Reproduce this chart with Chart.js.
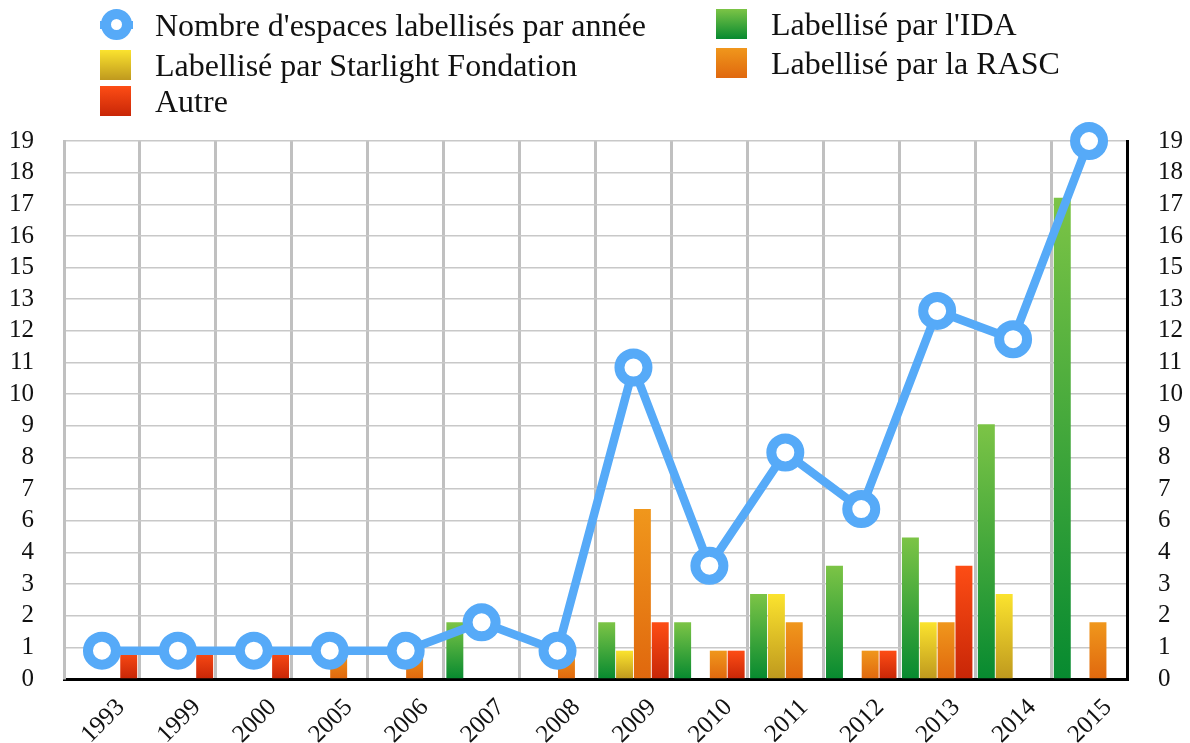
<!DOCTYPE html>
<html>
<head>
<meta charset="utf-8">
<script src="https://cdn.jsdelivr.net/npm/chart.js@4/dist/chart.umd.min.js"></script>
<style>
  html, body { margin: 0; padding: 0; background: #fff; }
  #wrap { position: relative; width: 1190px; height: 743px; }
  #c { position: absolute; left: 0; top: 0; }
  .lg { position: absolute; height: 32px; display: flex; align-items: center;
        font-family: "Liberation Serif", "Times New Roman", serif; font-size: 32px; color: #111; white-space: nowrap; }
  .sw { width: 31px; height: 30px; margin-right: 24px; flex: none; }
  .mk { position: relative; width: 33px; height: 32px; margin-right: 22px; flex: none; }
  .mk .ln { position: absolute; left: 0; right: 0; top: 12px; height: 8px; background: #56aaf8; }
  .mk .ci { position: absolute; left: 1px; top: 0px; width: 11px; height: 11px; border: 10px solid #56aaf8;
            border-radius: 50%; background: #fff; }
</style>
</head>
<body>
<div id="wrap">
  <canvas id="c" width="1190" height="743"></canvas>
  <div id="legend"></div>
</div>
<script>
// ---- data ----
const categories = ['1993','1999','2000','2005','2006','2007','2008','2009','2010','2011','2012','2013','2014','2015'];
const totalPerYear = [1, 1, 1, 1, 1, 2, 1, 11, 4, 8, 6, 13, 12, 19];
const idaValues       = [0, 0, 0, 0, 0, 2, 0, 2, 2, 3, 4, 5, 9, 17];
const starlightValues = [0, 0, 0, 0, 0, 0, 0, 1, 0, 3, 0, 2, 3, 0];
const rascValues      = [0, 0, 0, 1, 1, 0, 1, 6, 1, 2, 1, 2, 0, 2];
const autreValues     = [1, 1, 1, 0, 0, 0, 0, 2, 1, 0, 1, 4, 0, 0];
const yTickLabels = ['0','1','2','3','4','6','7','8','9','10','11','12','13','15','16','17','18','19'];
const yMax = 19;

const seriesNames = {
  total: "Nombre d'espaces labellisés par année",
  ida: "Labellisé par l'IDA",
  starlight: "Labellisé par Starlight Fondation",
  rasc: "Labellisé par la RASC",
  autre: "Autre"
};

// ---- styles ----
const FONT = '"Liberation Serif", "Times New Roman", serif';
const LINE_BLUE = '#56aaf8';
const grads = {
  ida: ['#7cc446', '#078a30'],
  starlight: ['#fbe32e', '#bf991e'],
  rasc: ['#f0971c', '#e0680e'],
  autre: ['#fd4d15', '#c82607']
};

function barGradient(stops) {
  return function (ctx) {
    const chart = ctx.chart;
    if (ctx.type !== 'data' || !chart.chartArea || !chart.scales.y) return stops[1];
    const ys = chart.scales.y;
    const top = ys.getPixelForValue(ctx.raw);
    const bottom = ys.getPixelForValue(0);
    if (!(bottom > top)) return stops[1];
    const g = chart.ctx.createLinearGradient(0, top, 0, bottom);
    g.addColorStop(0, stops[0]);
    g.addColorStop(1, stops[1]);
    return g;
  };
}

function barSet(label, data, key) {
  return {
    type: 'bar', label, data, order: 1,
    backgroundColor: barGradient(grads[key]),
    borderWidth: 0,
    categoryPercentage: 0.94,
    barPercentage: 0.95,
    yAxisID: 'y'
  };
}

// ---- html legend ----
(function buildLegend() {
  const L = document.getElementById('legend');
  const items = [
    { key: 'total', x: 100, cy: 25 },
    { key: 'ida', x: 716, cy: 24 },
    { key: 'starlight', x: 100, cy: 65 },
    { key: 'rasc', x: 716, cy: 63 },
    { key: 'autre', x: 100, cy: 101 }
  ];
  items.forEach(it => {
    const d = document.createElement('div');
    d.className = 'lg';
    d.style.left = it.x + 'px';
    d.style.top = (it.cy - 16) + 'px';
    let marker;
    if (it.key === 'total') {
      marker = document.createElement('div');
      marker.className = 'mk';
      marker.innerHTML = '<div class="ln"></div><div class="ci"></div>';
    } else {
      marker = document.createElement('div');
      marker.className = 'sw';
      marker.style.background = 'linear-gradient(to bottom,' + grads[it.key][0] + ',' + grads[it.key][1] + ')';
    }
    const t = document.createElement('span');
    t.textContent = seriesNames[it.key];
    d.appendChild(marker);
    d.appendChild(t);
    L.appendChild(d);
  });
})();

function yTicksBuilder(scale) {
  scale.ticks = yTickLabels.map((_, i) => ({ value: i * yMax / (yTickLabels.length - 1) }));
}

new Chart(document.getElementById('c'), {
  data: {
    labels: categories,
    datasets: [
      {
        type: 'line', label: seriesNames.total, data: totalPerYear, order: 0,
        borderColor: LINE_BLUE, borderWidth: 8.5,
        pointRadius: 14, pointBorderWidth: 10,
        pointBackgroundColor: '#ffffff', pointBorderColor: LINE_BLUE,
        pointHoverRadius: 14,
        tension: 0, clip: false, yAxisID: 'y'
      },
      barSet(seriesNames.ida, idaValues, 'ida'),
      barSet(seriesNames.starlight, starlightValues, 'starlight'),
      barSet(seriesNames.rasc, rascValues, 'rasc'),
      barSet(seriesNames.autre, autreValues, 'autre')
    ]
  },
  options: {
    responsive: false,
    animation: false,
    layout: { padding: { top: 141, left: 10, right: 5, bottom: 0 } },
    plugins: { legend: { display: false }, tooltip: { enabled: false } },
    scales: {
      x: {
        offset: true,
        afterFit: (s) => { s.paddingLeft = 0; s.paddingRight = 0; s.height = 64; },
        grid: { offset: true, color: '#c0c0c0', lineWidth: 3, drawTicks: false },
        border: { color: '#000', width: 3 },
        ticks: { font: { family: FONT, size: 25 }, color: '#111', minRotation: 45, maxRotation: 45,
                 padding: 14, labelOffset: 19, autoSkip: false }
      },
      y: {
        position: 'left', min: 0, max: yMax,
        afterBuildTicks: yTicksBuilder,
        afterFit: (s) => { s.width = 54; },
        grid: { color: '#c8c8c8', lineWidth: 1.5, drawTicks: false },
        border: { color: '#c0c0c0', width: 3 },
        ticks: { font: { family: FONT, size: 25 }, color: '#111', padding: 30, autoSkip: false,
                 callback: (v, i) => yTickLabels[i] }
      },
      y2: {
        position: 'right', min: 0, max: yMax,
        afterBuildTicks: yTicksBuilder,
        afterFit: (s) => { s.width = 58; },
        grid: { drawOnChartArea: false, drawTicks: false },
        border: { color: '#000', width: 3 },
        ticks: { font: { family: FONT, size: 25 }, color: '#111', padding: 31, autoSkip: false,
                 callback: (v, i) => yTickLabels[i] }
      }
    }
  }
});
</script>
</body>
</html>
